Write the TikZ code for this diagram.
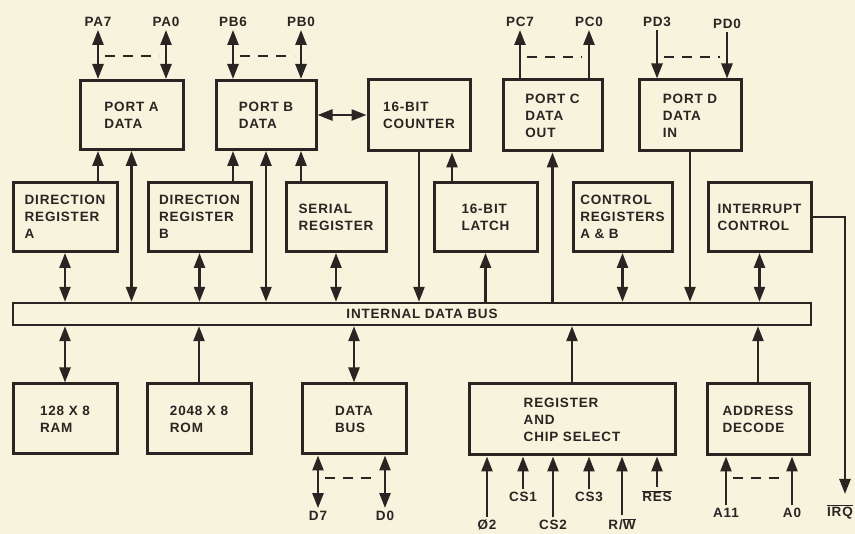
\documentclass[tikz,border=0pt]{standalone}
\usepackage{fontspec}
\newfontfamily\dfont[LetterSpace=6]{Liberation Sans}
\usetikzlibrary{arrows.meta}
\usepackage{xcolor}
\definecolor{paper}{RGB}{248,243,221}
\definecolor{ink}{RGB}{40,37,34}

\begin{document}
\begin{tikzpicture}[x=1pt, y=-1pt,
		>={Triangle[length=15pt, width=11pt]},
		t/.style = {rectangle, draw=ink, fill=paper, line width=3pt, minimum width=103, minimum height=69, align=left, text=ink, font=\dfont\bfseries\fontsize{13.5}{17}\selectfont},
		p/.style = {text=ink, inner sep=3pt, font=\dfont\bfseries\fontsize{13.5}{17}\selectfont},
		r/.style = {draw=ink, line width=2.4pt},
		g/.style = {draw=ink, line width=2.2pt, dash pattern=on 10pt off 8pt, shorten <=7pt, shorten >=7pt}
		]
		\path[use as bounding box, fill=paper] (0,0) rectangle (855,534);
		
		%Nodes
		\node[t]	(pa)	at	(131.5,115)	{PORT A\\DATA};
		\node[t, minimum width=100]	(pb)	at	(266,115)	{PORT B\\DATA};
		\node[t, minimum width=102, minimum height=71]	(cnt)	at	(419,115.5)	{16-BIT\\COUNTER};
		\node[t, minimum width=99, minimum height=71]	(pc)	at	(552.5,115.5)	{PORT C\\DATA\\OUT};
		\node[t, minimum width=102, minimum height=71]	(pd)	at	(690,115.5)	{PORT D\\DATA\\IN};
		
		\node[t, minimum width=104]	(dira)	at	(65,217)	{DIRECTION\\REGISTER\\A};
		\node[t]	(dirb)	at	(199.5,217)	{DIRECTION\\REGISTER\\B};
		\node[t, minimum width=100]	(ser)	at	(336,217)	{SERIAL\\REGISTER};
		\node[t]	(lat)	at	(485.5,217)	{16-BIT\\LATCH};
		\node[t, minimum width=99]	(ctl)	at	(622.5,217)	{CONTROL\\REGISTERS\\A \& B};
		\node[t]	(irq)	at	(759.5,217)	{INTERRUPT\\CONTROL};
		
		\node[t, minimum width=798, minimum height=22, line width=2.4pt]	(bus)	at	(412,314)	{};
		\node[p]	(buslbl)	at	(422,314)	{INTERNAL DATA BUS};
		
		\node[t, minimum width=104, minimum height=70]	(ram)	at	(65,419)	{128 X 8\\RAM};
		\node[t, minimum width=104, minimum height=70]	(rom)	at	(199,419)	{2048 X 8\\ROM};
		\node[t, minimum width=104, minimum height=70]	(dbus)	at	(354,419)	{DATA\\BUS};
		\node[t, minimum width=206, minimum height=71]	(rcs)	at	(572,419.5)	{REGISTER\\AND\\CHIP SELECT};
		\node[t, minimum width=102, minimum height=71]	(adec)	at	(758,419.5)	{ADDRESS\\DECODE};
		
		%Pins
		\node[p]	(pa7)	at	(98,22)		{PA7};
		\node[p]	(pa0)	at	(166,22)	{PA0};
		\node[p]	(pb6)	at	(233,22)	{PB6};
		\node[p]	(pb0)	at	(301,22)	{PB0};
		\node[p]	(pc7)	at	(520,22)	{PC7};
		\node[p]	(pc0)	at	(589,22)	{PC0};
		\node[p]	(pd3)	at	(657,22)	{PD3};
		\node[p]	(pd0)	at	(727,24)	{PD0};
		\node[p]	(d7)	at	(318,516)	{D7};
		\node[p]	(d0)	at	(385,516)	{D0};
		\node[p]	(phi)	at	(487,525)	{Ø2};
		\node[p]	(cs1)	at	(523,497)	{CS1};
		\node[p]	(cs2)	at	(553,525)	{CS2};
		\node[p]	(cs3)	at	(589,497)	{CS3};
		\node[p]	(rw)	at	(622,524)	{R/$\overline{\hbox{W}}$};
		\node[p]	(res)	at	(657,496)	{$\overline{\hbox{RES}}$};
		\node[p]	(a11)	at	(726,513)	{A11};
		\node[p]	(a0)	at	(792,513)	{A0};
		\node[p]	(irqn)	at	(840,512)	{$\overline{\hbox{IRQ}}$};
		\coordinate	(irqend)	at	(845,494);
		
		%Lines
		\draw[r, <->]	(pa7)	--	(pa7 |- pa.north);
		\draw[r, <->]	(pa0)	--	(pa0 |- pa.north);
		\draw[r, <->]	(pb6)	--	(pb6 |- pb.north);
		\draw[r, <->]	(pb0)	--	(pb0 |- pb.north);
		\draw[r, <-]	(pc7)	--	(pc7 |- pc.north);
		\draw[r, <-]	(pc0)	--	(pc0 |- pc.north);
		\draw[r, ->]	(pd3)	--	(pd3 |- pd.north);
		\draw[r, ->]	(pd0)	--	(pd0 |- pd.north);
		\draw[g]	(pa7 |- 0,56)	--	(pa0 |- 0,56);
		\draw[g]	(pb6 |- 0,56)	--	(pb0 |- 0,56);
		\draw[g]	(pc7 |- 0,57)	--	(pc0 |- 0,57);
		\draw[g]	(pd3 |- 0,57)	--	(pd0 |- 0,57);
		
		\draw[r, <->]	(pb.east)	--	(pb.east -| cnt.west);
		\draw[r, ->]	(dira.north -| pa7)	--	(pa.south -| pa7);
		\draw[r, <->]	(bus.north -| pa.south)	--	(pa.south);
		\draw[r, ->]	(dirb.north -| pb6)	--	(pb.south -| pb6);
		\draw[r, <->]	(bus.north -| pb.south)	--	(pb.south);
		\draw[r, ->]	(ser.north -| pb0)	--	(pb.south -| pb0);
		\draw[r, ->]	(cnt.south)	--	(cnt.south |- bus.north);
		\draw[r, ->]	(lat.north -| 452,0)	--	(cnt.south -| 452,0);
		\draw[r, ->]	(bus.north -| pc.south)	--	(pc.south);
		\draw[r, ->]	(pd.south)	--	(pd.south |- bus.north);
		
		\draw[r, <->]	(dira.south)	--	(dira.south |- bus.north);
		\draw[r, <->]	(dirb.south)	--	(dirb.south |- bus.north);
		\draw[r, <->]	(ser.south)	--	(ser.south |- bus.north);
		\draw[r, ->]	(bus.north -| lat.south)	--	(lat.south);
		\draw[r, <->]	(ctl.south)	--	(ctl.south |- bus.north);
		\draw[r, <->]	(irq.south)	--	(irq.south |- bus.north);
		\draw[r, ->]	(irq.east)	-|	(irqend);
		
		\draw[r, <->]	(bus.south -| ram.north)	--	(ram.north);
		\draw[r, ->]	(rom.north)	--	(rom.north |- bus.south);
		\draw[r, <->]	(bus.south -| dbus.north)	--	(dbus.north);
		\draw[r, ->]	(rcs.north)	--	(rcs.north |- bus.south);
		\draw[r, ->]	(adec.north)	--	(adec.north |- bus.south);
		
		\draw[r, <->]	(dbus.south -| d7)	--	(d7);
		\draw[r, <->]	(dbus.south -| d0)	--	(d0);
		\draw[g]	(d7 |- 0,478)	--	(d0 |- 0,478);
		\draw[r, ->]	(phi)	--	(phi |- rcs.south);
		\draw[r, ->]	(cs1)	--	(cs1 |- rcs.south);
		\draw[r, ->]	(cs2)	--	(cs2 |- rcs.south);
		\draw[r, ->]	(cs3)	--	(cs3 |- rcs.south);
		\draw[r, ->]	(rw)	--	(rw |- rcs.south);
		\draw[r, ->]	(res)	--	(res |- rcs.south);
		\draw[r, ->]	(a11)	--	(a11 |- adec.south);
		\draw[r, ->]	(a0)	--	(a0 |- adec.south);
		\draw[g]	(a11 |- 0,478)	--	(a0 |- 0,478);
	\end{tikzpicture}
\end{document}
